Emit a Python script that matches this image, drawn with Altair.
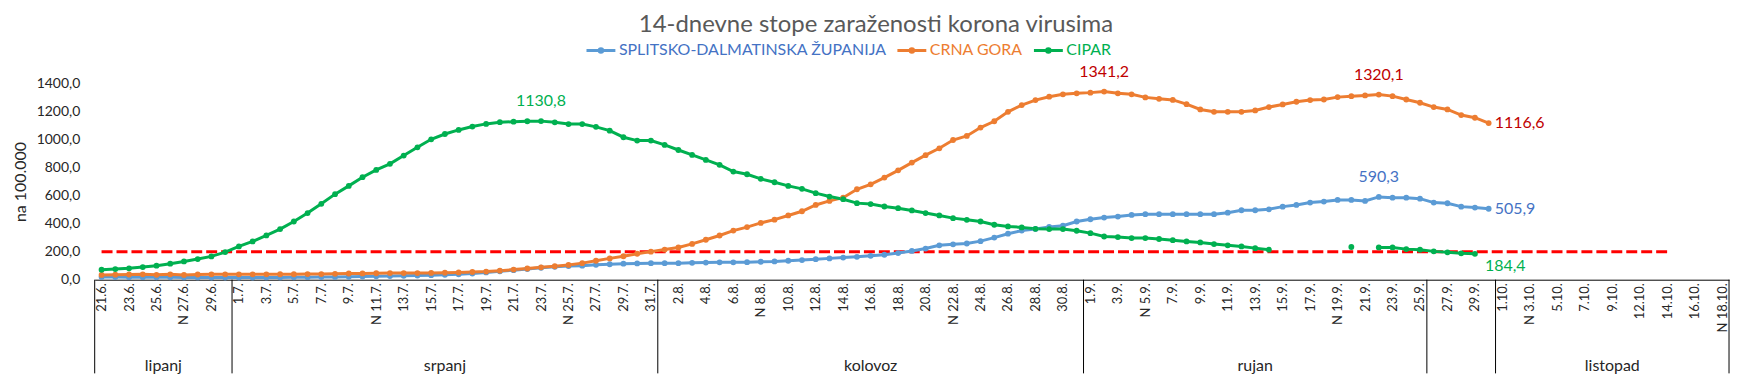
import altair as alt
import pandas as pd

TITLE = "14-dnevne stope zaraženosti korona virusima"
SERIES = ["SPLITSKO-DALMATINSKA ŽUPANIJA", "CRNA GORA", "CIPAR"]
LINE_COLORS = ["#5B9BD5", "#ED7D31", "#00B050"]
LEGEND_TEXT_COLORS = ["#4472C4", "#ED7D31", "#00B050"]

# daily values, index 0 = 21.6.
BLUE = [20, 19, 18, 18, 17, 17, 16, 16, 15, 15,
        15, 15, 16, 16, 17, 18, 19, 20, 21, 22,
        24, 26, 28, 30, 32, 35, 38, 44, 52, 60,
        68, 76, 85, 92, 97, 100, 106, 110, 114, 116,
        118, 118, 118, 120, 122, 124, 124, 125, 128, 130,
        135, 140, 146, 152, 158, 163, 170, 178, 190, 205,
        222, 245, 252, 258, 275, 300, 328, 350, 362, 376,
        385, 415, 431, 443, 450, 462, 467, 467, 467, 467,
        467, 467, 478, 495, 495, 502, 521, 533, 550, 557,
        569, 569, 562, 590.3, 585, 585, 578, 550, 545, 521,
        514, 505.9]
ORANGE = [34, 36, 37, 38, 35, 38, 34, 37, 38, 38,
          38, 38, 38, 39, 39, 40, 40, 42, 44, 45,
          46, 47, 47, 47, 48, 50, 52, 55, 58, 64,
          72, 80, 88, 96, 105, 118, 135, 152, 167, 185,
          200, 215, 230, 255, 285, 315, 350, 375, 405, 428,
          458, 488, 533, 562, 585, 645, 680, 728, 780, 835,
          888, 937, 996, 1025, 1085, 1130, 1197, 1245, 1281, 1305,
          1322, 1329, 1334, 1341.2, 1329, 1322, 1300, 1290, 1282, 1252,
          1214, 1197, 1197, 1197, 1207, 1231, 1250, 1269, 1281, 1285,
          1302, 1309, 1314, 1320.1, 1309, 1285, 1262, 1231, 1214, 1174,
          1155, 1116.6]
GREEN = [71, 76, 81, 90, 100, 114, 130, 147, 166, 197,
         237, 273, 316, 361, 415, 475, 541, 610, 669, 731,
         783, 826, 885, 944, 1001, 1039, 1068, 1092, 1111, 1123,
         1127, 1130, 1130.8, 1122, 1110, 1110, 1090, 1063, 1016, 992,
         992, 961, 925, 890, 854, 819, 771, 752, 719, 695,
         669, 648, 617, 593, 574, 546, 539, 522, 510, 494,
         475, 458, 439, 427, 415, 392, 380, 373, 363, 361,
         361, 349, 332, 308, 304, 297, 297, 290, 282, 273,
         266, 254, 245, 237, 225, 214, None, None, None, None,
         None, 233, None, 230, 230, 218, 214, 202, 195, 188,
         184.4, None]

# category axis: 119 days (11.10. missing), a label on every second day
N_DAYS = 119
TICK_LABELS = ["21.6.", "23.6.", "25.6.", "N 27.6.", "29.6.",
               "1.7.", "3.7.", "5.7.", "7.7.", "9.7.", "N 11.7.", "13.7.", "15.7.",
               "17.7.", "19.7.", "21.7.", "23.7.", "N 25.7.", "27.7.", "29.7.", "31.7.",
               "2.8.", "4.8.", "6.8.", "N 8.8.", "10.8.", "12.8.", "14.8.", "16.8.",
               "18.8.", "20.8.", "N 22.8.", "24.8.", "26.8.", "28.8.", "30.8.",
               "1.9.", "3.9.", "N 5.9.", "7.9.", "9.9.", "11.9.", "13.9.", "15.9.",
               "17.9.", "N 19.9.", "21.9.", "23.9.", "25.9.", "27.9.", "29.9.",
               "1.10.", "N 3.10.", "5.10.", "7.10.", "9.10.", "12.10.", "14.10.",
               "16.10.", "N 18.10."]
Y_TICKS = [0, 200, 400, 600, 800, 1000, 1200, 1400]

MONTH_NAMES = ["lipanj", "srpanj", "kolovoz", "rujan", "", "listopad"]
MONTH_EDGES = [-0.5, 9.5, 40.5, 71.5, 96.5, 101.5, 118.5]

THRESHOLD = 200
THRESHOLD_FROM = 0
THRESHOLD_TO = 114

LABEL_SERIES = [2, 1, 1, 1, 0, 0, 2]
LABEL_DAYS = [32, 73, 93, 101, 93, 101, 100]
LABEL_POS = ["above", "above", "above", "right", "above", "right", "below"]
LABEL_COLORS = ["#00B050", "#C00000", "#C00000", "#C00000", "#4472C4", "#4472C4", "#00B050"]

FONT = "Lato"
W, H = 1640, 197

# ---------- tables ----------
rows = []
for name, vals in zip(SERIES, [BLUE, ORANGE, GREEN]):
    seg = 0
    for i, v in enumerate(vals):
        if v is None:
            seg += 1
            continue
        rows.append({"day": i, "value": v, "series": name, "seg": f"{name}-{seg}"})
df = pd.DataFrame(rows)

all_vals = [BLUE, ORANGE, GREEN]
lab = pd.DataFrame({
    "day": LABEL_DAYS,
    "value": [all_vals[s][d] for s, d in zip(LABEL_SERIES, LABEL_DAYS)],
    "pos": LABEL_POS,
    "color": LABEL_COLORS,
})
lab["text"] = [f"{v:.1f}".replace(".", ",") for v in lab["value"]]

months = pd.DataFrame({
    "name": MONTH_NAMES,
    "center": [(a + b) / 2 for a, b in zip(MONTH_EDGES[:-1], MONTH_EDGES[1:])],
})
edges = pd.DataFrame({"edge": MONTH_EDGES})
thr = pd.DataFrame({"x": [THRESHOLD_FROM], "x2": [THRESHOLD_TO], "y": [THRESHOLD]})

label_array = "[" + ",".join(f"'{t}'" for t in TICK_LABELS) + "]"
xscale = alt.Scale(domain=[-0.5, N_DAYS - 0.5], nice=False, zero=False)
yscale = alt.Scale(domain=[0, 1400], nice=False)

x_axis = alt.Axis(values=list(range(0, N_DAYS, 2)), labelExpr=f"{label_array}[datum.value/2]",
                  labelAngle=270, labelFontSize=13, labelFont=FONT, labelColor="#262626",
                  labelPadding=3, ticks=False, grid=False, domainColor="#000000",
                  domainWidth=1, labelOverlap=False, labelFlush=False, title="")
y_axis = alt.Axis(values=Y_TICKS, labelExpr="replace(format(datum.value, '.1f'), '.', ',')",
                  domain=False, ticks=False, grid=False, labelFontSize=14, labelFont=FONT,
                  labelColor="#262626", labelPadding=15, title="na 100.000",
                  titleFontSize=16, titleFont=FONT, titleFontWeight="normal",
                  titleColor="#262626", titlePadding=8)


def X(field):
    return alt.X(f"{field}:Q", scale=xscale, axis=x_axis, title="")


def Y(field):
    return alt.Y(f"{field}:Q", scale=yscale, axis=y_axis, title="na 100.000")


color_expr = " : ".join(
    f"datum.value === '{s}' ? '{c}'" for s, c in zip(SERIES[1:], LEGEND_TEXT_COLORS[1:])
) + f" : '{LEGEND_TEXT_COLORS[0]}'"

legend = alt.Legend(orient="none", legendX=492, legendY=-49, direction="horizontal",
                    symbolType="M-1,0H1M-0.12,0A0.12,0.12,0,1,1,0.12,0A0.12,0.12,0,1,1,-0.12,0",
                    symbolSize=841, symbolStrokeWidth=3, labelFontSize=16, labelFont=FONT,
                    labelColor={"expr": color_expr}, columnPadding=4, labelOffset=2,
                    labelLimit=500)

base = alt.Chart(df)

threshold = alt.Chart(thr).mark_rule(color="#FF0000", strokeWidth=3, strokeDash=[11, 4]).encode(
    x=X("x"), x2="x2:Q", y=Y("y"))

lines = base.mark_line(strokeWidth=3).encode(
    x=X("day"), y=Y("value"),
    color=alt.Color("series:N", scale=alt.Scale(domain=SERIES, range=LINE_COLORS),
                    legend=legend, title=""),
    detail="seg:N")

points = base.mark_circle(size=34, opacity=1).encode(
    x=X("day"), y=Y("value"),
    fill=alt.Fill("series:N", scale=alt.Scale(domain=SERIES, range=LINE_COLORS), legend=None))

lab_base = alt.Chart(lab)
lab_above = lab_base.transform_filter(alt.datum.pos == "above").mark_text(
    fontSize=16, font=FONT, dy=-20, align="center", baseline="middle").encode(
    x=X("day"), y=Y("value"), text="text:N", color=alt.Color("color:N", scale=None))
lab_right = lab_base.transform_filter(alt.datum.pos == "right").mark_text(
    fontSize=16, font=FONT, dx=6, align="left", baseline="middle").encode(
    x=X("day"), y=Y("value"), text="text:N", color=alt.Color("color:N", scale=None))
lab_below = lab_base.transform_filter(alt.datum.pos == "below").mark_text(
    fontSize=16, font=FONT, dx=10, dy=12, align="left", baseline="middle").encode(
    x=X("day"), y=Y("value"), text="text:N", color=alt.Color("color:N", scale=None))

seps = alt.Chart(edges).mark_rule(color="#000000", strokeWidth=1).encode(
    x=X("edge"), y=alt.value(H), y2=alt.value(H + 94))

month_text = alt.Chart(months).mark_text(fontSize=16, font=FONT, color="#262626",
                                          baseline="middle", align="center").encode(
    x=X("center"), y=alt.value(H + 87), text="name:N")

chart = alt.layer(threshold, lines, points, lab_above, lab_right, lab_below, seps, month_text).properties(
    width=W, height=H,
    padding={"left": 87, "top": 75, "right": 5, "bottom": 94},
    autosize=alt.AutoSizeParams(type="none"),
    title=alt.TitleParams(TITLE, fontSize=24, font=FONT, fontWeight="normal", color="#595959",
                          anchor="middle", dx=-36, dy=2, offset=0),
).configure_view(strokeWidth=0)

chart.save("out.html", embed_options={"renderer": "svg", "actions": False})
